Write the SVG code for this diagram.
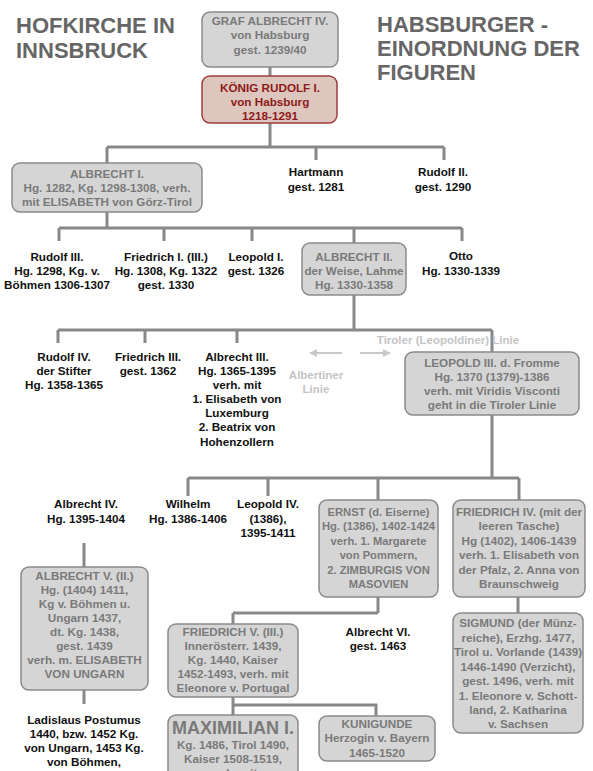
<svg xmlns="http://www.w3.org/2000/svg" width="593" height="771" viewBox="0 0 593 771">
<defs>
<marker id="ah" viewBox="0 0 10 10" refX="9" refY="5" markerWidth="4" markerHeight="4" orient="auto"><path d="M0,0 L10,5 L0,10 z" fill="#c8c8c8"/></marker>
</defs>
<style>
text{font-family:"Liberation Sans",Arial,sans-serif;font-weight:bold;text-anchor:middle}
.title{font-size:22px;fill:#666;text-anchor:start}
.box rect{fill:#d5d5d5;stroke:#8a8a8a;stroke-width:1.5}
.box text{font-size:11.7px;fill:#7a7a7a}
.box text.big{font-size:18px}
.box text.sm{font-size:11.2px}
.red rect{fill:#dcc6be;stroke:#a03c3c;stroke-width:1.5}
.red text{font-size:11.7px;fill:#8e1a1a}
.lbl text{font-size:11.7px;fill:#111}
.faint{font-size:11.5px;fill:#c4c4c4}
.conn path{fill:none;stroke:#888;stroke-width:3}
.arr{stroke:#c8c8c8;stroke-width:2;fill:none}
</style>
<rect width="593" height="771" fill="#fff"/>
<text class="title" x="16" y="33">HOFKIRCHE IN</text>
<text class="title" x="16" y="58">INNSBRUCK</text>
<text class="title" x="377" y="32">HABSBURGER -</text>
<text class="title" x="377" y="56">EINORDNUNG DER</text>
<text class="title" x="377" y="80">FIGUREN</text>

<g class="conn">
<path d="M270,67 V76"/>
<path d="M270,123 V147 M107,147 H444 M107,147 V163 M316,147 V160 M444,147 V160"/>
<path d="M107,212 V228 M59,228 H462 M59,228 V241 M164,228 V241 M252,228 V241 M354,228 V243 M462,228 V241"/>
<path d="M354,295 V330 M58,330 H492 M58,330 V343 M145,330 V343 M237,330 V343 M492,330 V352"/>
<path d="M492,415 V478 M188,478 H519 M188,478 V496 M268,478 V496 M378,478 V500 M519,478 V500"/>
<path d="M84,543 V567"/>
<path d="M84,690 V704"/>
<path d="M378,597 V613 M233,613 H378 M233,613 V624"/>
<path d="M233,697 V715 M233,705 H376 V716"/>
<path d="M518,597 V613"/>
</g>

<g id="graf-albrecht-iv" class="box">
<rect x="202" y="12" width="136" height="55" rx="8"/>
<text x="270" y="25">GRAF ALBRECHT IV.</text>
<text x="270" y="39">von Habsburg</text>
<text x="270" y="54">gest. 1239/40</text>
</g>
<g id="rudolf-i" class="red">
<rect x="202" y="76" width="135" height="47" rx="8"/>
<text x="270" y="92">KÖNIG RUDOLF I.</text>
<text x="270" y="106">von Habsburg</text>
<text x="270" y="120">1218-1291</text>
</g>
<g id="albrecht-i" class="box">
<rect x="12" y="163" width="190" height="49" rx="8"/>
<text x="107" y="178">ALBRECHT I.</text>
<text x="107" y="192">Hg. 1282, Kg. 1298-1308, verh.</text>
<text x="107" y="206">mit ELISABETH von Görz-Tirol</text>
</g>
<g id="hartmann" class="lbl">
<text x="316" y="176">Hartmann</text>
<text x="316" y="191">gest. 1281</text>
</g>
<g id="rudolf-ii" class="lbl">
<text x="443" y="176">Rudolf II.</text>
<text x="443" y="191">gest. 1290</text>
</g>
<g id="rudolf-iii" class="lbl">
<text x="57" y="261">Rudolf III.</text>
<text x="57" y="275">Hg. 1298, Kg. v.</text>
<text x="57" y="289">Böhmen 1306-1307</text>
</g>
<g id="friedrich-i" class="lbl">
<text x="166" y="261">Friedrich I. (III.)</text>
<text x="166" y="275">Hg. 1308, Kg. 1322</text>
<text x="166" y="289">gest. 1330</text>
</g>
<g id="leopold-i" class="lbl">
<text x="256" y="261">Leopold I.</text>
<text x="256" y="275">gest. 1326</text>
</g>
<g id="albrecht-ii" class="box">
<rect x="302" y="243" width="104" height="52" rx="8"/>
<text x="354" y="261">ALBRECHT II.</text>
<text x="354" y="275">der Weise, Lahme</text>
<text x="354" y="289">Hg. 1330-1358</text>
</g>
<g id="otto" class="lbl">
<text x="461" y="260">Otto</text>
<text x="461" y="275">Hg. 1330-1339</text>
</g>
<g id="rudolf-iv" class="lbl">
<text x="64" y="361">Rudolf IV.</text>
<text x="64" y="375">der Stifter</text>
<text x="64" y="389">Hg. 1358-1365</text>
</g>
<g id="friedrich-iii" class="lbl">
<text x="148" y="361">Friedrich III.</text>
<text x="148" y="375">gest. 1362</text>
</g>
<g id="albrecht-iii" class="lbl">
<text x="237" y="361">Albrecht III.</text>
<text x="237" y="375">Hg. 1365-1395</text>
<text x="237" y="389">verh. mit</text>
<text x="237" y="403">1. Elisabeth von</text>
<text x="237" y="417">Luxemburg</text>
<text x="237" y="431">2. Beatrix von</text>
<text x="237" y="446">Hohenzollern</text>
</g>
<g id="linien">
<text class="faint" x="448" y="344">Tiroler (Leopoldiner) Linie</text>
<text class="faint" x="316" y="379">Albertiner</text>
<text class="faint" x="316" y="393">Linie</text>
<path class="arr" d="M342,353 H310" marker-end="url(#ah)"/>
<path class="arr" d="M360,353 H390" marker-end="url(#ah)"/>
</g>
<g id="leopold-iii" class="box">
<rect x="405" y="352" width="174" height="63" rx="8"/>
<text x="492" y="367">LEOPOLD III. d. Fromme</text>
<text x="492" y="381">Hg. 1370 (1379)-1386</text>
<text x="492" y="395">verh. mit Viridis Visconti</text>
<text x="492" y="409">geht in die Tiroler Linie</text>
</g>
<g id="albrecht-iv" class="lbl">
<text x="86" y="508">Albrecht IV.</text>
<text x="86" y="523">Hg. 1395-1404</text>
</g>
<g id="wilhelm" class="lbl">
<text x="188" y="508">Wilhelm</text>
<text x="188" y="523">Hg. 1386-1406</text>
</g>
<g id="leopold-iv" class="lbl">
<text x="268" y="508">Leopold IV.</text>
<text x="268" y="523">(1386),</text>
<text x="268" y="537">1395-1411</text>
</g>
<g id="ernst" class="box">
<rect x="319" y="500" width="119" height="97" rx="8"/>
<text class="sm" x="378.5" y="516">ERNST (d. Eiserne)</text>
<text class="sm" x="378.5" y="530">Hg. (1386), 1402-1424</text>
<text class="sm" x="378.5" y="545">verh. 1. Margarete</text>
<text class="sm" x="378.5" y="559">von Pommern,</text>
<text class="sm" x="378.5" y="574">2. ZIMBURGIS VON</text>
<text class="sm" x="378.5" y="588">MASOVIEN</text>
</g>
<g id="friedrich-iv" class="box">
<rect x="453" y="500" width="132" height="97" rx="8"/>
<text x="519" y="516">FRIEDRICH IV. (mit der</text>
<text x="519" y="530">leeren Tasche)</text>
<text x="519" y="545">Hg (1402), 1406-1439</text>
<text x="519" y="559">verh. 1. Elisabeth von</text>
<text x="519" y="574">der Pfalz, 2. Anna von</text>
<text x="519" y="588">Braunschweig</text>
</g>
<g id="albrecht-v" class="box">
<rect x="21" y="567" width="127" height="123" rx="8"/>
<text x="84.5" y="580">ALBRECHT V. (II.)</text>
<text x="84.5" y="594">Hg. (1404) 1411,</text>
<text x="84.5" y="608">Kg v. Böhmen u.</text>
<text x="84.5" y="622">Ungarn 1437,</text>
<text x="84.5" y="636">dt. Kg. 1438,</text>
<text x="84.5" y="650">gest. 1439</text>
<text x="84.5" y="664">verh. m. ELISABETH</text>
<text x="84.5" y="678">VON UNGARN</text>
</g>
<g id="ladislaus" class="lbl">
<text x="84" y="724">Ladislaus Postumus</text>
<text x="84" y="738">1440, bzw. 1452 Kg.</text>
<text x="84" y="752">von Ungarn, 1453 Kg.</text>
<text x="84" y="766">von Böhmen,</text>
</g>
<g id="friedrich-v" class="box">
<rect x="168" y="624" width="130" height="73" rx="8"/>
<text x="233" y="636">FRIEDRICH V. (III.)</text>
<text x="233" y="650">Innerösterr. 1439,</text>
<text x="233" y="664">Kg. 1440, Kaiser</text>
<text x="233" y="678">1452-1493, verh. mit</text>
<text x="233" y="692">Eleonore v. Portugal</text>
</g>
<g id="albrecht-vi" class="lbl">
<text x="378" y="636">Albrecht VI.</text>
<text x="378" y="650">gest. 1463</text>
</g>
<g id="sigmund" class="box">
<rect x="453" y="613" width="130" height="120" rx="8"/>
<text x="518" y="627">SIGMUND (der Münz-</text>
<text x="518" y="642">reiche), Erzhg. 1477,</text>
<text x="518" y="656">Tirol u. Vorlande (1439)</text>
<text x="518" y="671">1446-1490 (Verzicht),</text>
<text x="518" y="685">gest. 1496, verh. mit</text>
<text x="518" y="700">1. Eleonore v. Schott-</text>
<text x="518" y="714">land, 2. Katharina</text>
<text x="518" y="728">v. Sachsen</text>
</g>
<g id="maximilian-i" class="box">
<rect x="168" y="715" width="130" height="80" rx="8"/>
<text class="big" x="233" y="734">MAXIMILIAN I.</text>
<text x="233" y="749">Kg. 1486, Tirol 1490,</text>
<text x="233" y="763">Kaiser 1508-1519,</text>
<text x="233" y="777">verh. mit</text>
</g>
<g id="kunigunde" class="box">
<rect x="319" y="716" width="116" height="45" rx="8"/>
<text x="377" y="728">KUNIGUNDE</text>
<text x="377" y="742">Herzogin v. Bayern</text>
<text x="377" y="757">1465-1520</text>
</g>
</svg>
